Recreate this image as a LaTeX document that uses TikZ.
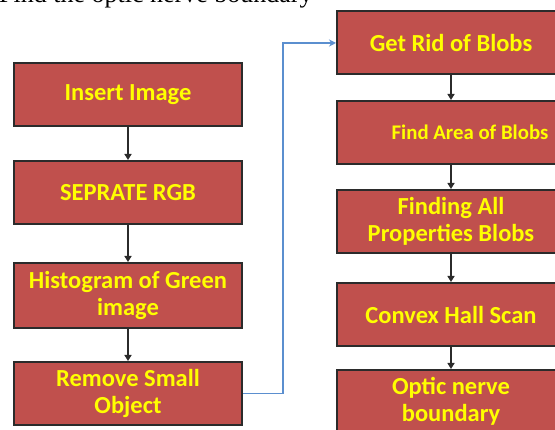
\documentclass[tikz,border=0pt]{standalone}
\usepackage{fontspec}
\setmainfont{Liberation Serif}
\newfontfamily\boxfont{Carlito}
\usetikzlibrary{arrows.meta}
\definecolor{boxred}{HTML}{C0504D}
\definecolor{boxedge}{HTML}{2B2B2B}
\definecolor{txtyellow}{HTML}{FFFF00}
\definecolor{linkblue}{HTML}{5B8FCF}
\tikzset{
  stepbox/.style={draw=boxedge, line width=2pt, fill=boxred, minimum width=228pt,
    minimum height=63pt, inner sep=0pt, align=center, text=txtyellow,
    font=\boxfont\bfseries\fontsize{24.5}{26.5}\selectfont},
  flow/.style={draw=boxedge, line width=1.6pt, -{Triangle[length=6pt,width=7pt]}},
  link/.style={draw=linkblue, line width=1.8pt, -{Stealth[length=7pt,width=7pt]}}
}
\begin{document}
\begin{tikzpicture}[x=1pt,y=1pt]
\useasboundingbox (0,0) rectangle (555,-430);
\clip (0,0) rectangle (555,-430);
\node[anchor=base west, font=\fontsize{26}{30}\selectfont, inner sep=0pt] (title) at (-1,-2.5) {Find the optic nerve boundary};
% left column
\node[stepbox] (l1) at (128,-94.5) {Insert Image};
\node[stepbox] (l2) at (128,-192.5) {SEPRATE RGB};
\node[stepbox, minimum height=65pt] (l3) at (128,-295.5) {Histogram of Green\\image};
\node[stepbox] (l4) at (128,-393.5) {Remove Small\\Object};
% right column
\node[stepbox] (r1) at (451,-43) {Get Rid of Blobs};
\node[stepbox, font=\boxfont\bfseries\fontsize{20.8}{24}\selectfont] (r2) at (451,-132.5) {\hspace*{38pt}Find Area of Blobs};
\node[stepbox] (r3) at (451,-221.5) {Finding All\\Properties Blobs};
\node[stepbox] (r4) at (451,-314.5) {Convex Hall Scan};
\node[stepbox] (r5) at (451,-401.5) {Optic nerve\\boundary};
% connectors
\draw[flow] (l1) -- (l2);
\draw[flow] (l2) -- (l3);
\draw[flow] (l3) -- (l4);
\draw[flow] (r1) -- (r2);
\draw[flow] (r2) -- (r3);
\draw[flow] (r3) -- (r4);
\draw[flow] (r4) -- (r5);
\coordinate (bend) at (283,-393.5);
\draw[link] (l4.east) -- (bend) |- (r1.west);
\end{tikzpicture}
\end{document}
